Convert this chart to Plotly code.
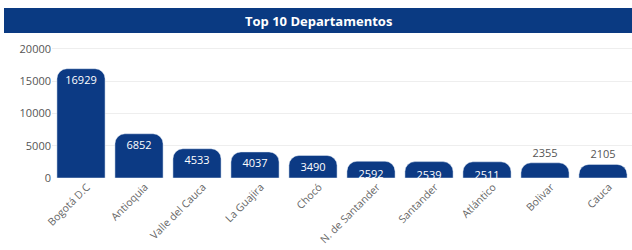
import plotly.graph_objects as go

departamentos = ["Bogotá D.C", "Antioquia", "Valle del Cauca", "La Guajira", "Chocó",
                 "N. de Santander", "Santander", "Atlántico", "Bolivar", "Cauca"]
casos = [16929, 6852, 4533, 4037, 3490, 2592, 2539, 2511, 2355, 2105]
posiciones_texto = ["inside"] * 8 + ["outside"] * 2
y_ticks = [0, 5000, 10000, 15000, 20000]

BAR = "#0c3a84"

fig = go.Figure(go.Bar(
    x=departamentos, y=casos,
    text=[str(v) for v in casos],
    textposition=posiciones_texto,
    insidetextanchor="end",
    insidetextfont=dict(color="white", size=11, family="Open Sans"),
    outsidetextfont=dict(color="#555555", size=11, family="Open Sans"),
    textangle=0,
    cliponaxis=False,
    marker=dict(color=BAR, cornerradius=10),
))

fig.update_layout(
    width=632, height=250,
    margin=dict(l=52, r=0, t=45, b=72),
    paper_bgcolor="white", plot_bgcolor="white",
    bargap=0.17,
    showlegend=False,
    uniformtext=dict(minsize=11, mode="show"),
    font=dict(family="Open Sans", color="#555555"),
    xaxis=dict(tickangle=-45, tickfont=dict(size=10.5, color="#666666"), showgrid=False,
               showline=False, ticks="", automargin=False, ticklabelshift=6),
    yaxis=dict(range=[0, 20600], tickvals=y_ticks, ticktext=[str(t) for t in y_ticks],
               tickfont=dict(size=11, color="#555555"), automargin=False,
               showgrid=True, gridcolor="#eeeeee", zeroline=False, showline=False, ticks=""),
    shapes=[dict(type="rect", xref="paper", yref="paper",
                 x0=(4 - 52) / 580, x1=1.0,
                 y0=(250 - 72 - 33) / 133, y1=(250 - 72 - 8) / 133,
                 fillcolor="#0a3a82", line=dict(width=0), layer="above")],
    annotations=[dict(text="<b>Top 10 Departamentos</b>", xref="paper", yref="paper",
                      x=(318 - 52) / 580, y=(250 - 72 - 20.5) / 133,
                      xanchor="center", yanchor="middle", showarrow=False,
                      font=dict(size=13, color="white", family="Open Sans"))],
)

fig.write_html("out.html", config={"displayModeBar": False},
               post_script="document.body.style.margin='0';")
